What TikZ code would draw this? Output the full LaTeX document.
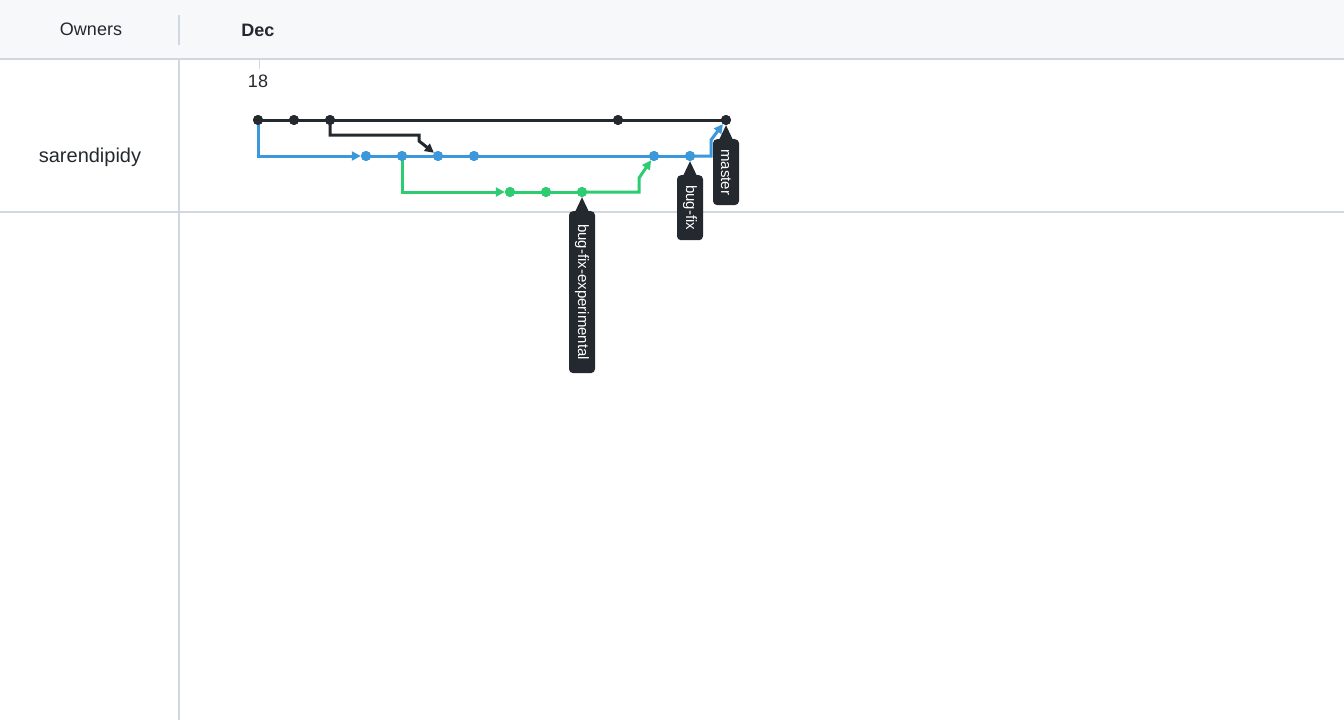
\documentclass[tikz,border=0pt]{standalone}
\usepackage{fontspec}
\setmainfont{Liberation Sans}
\usetikzlibrary{arrows.meta}
\definecolor{hdrbg}{HTML}{F6F8FA}
\definecolor{gridln}{HTML}{D0D7DE}
\definecolor{ink}{HTML}{24292F}
\definecolor{bblue}{RGB}{58,152,219}
\definecolor{bgreen}{RGB}{46,204,113}
\tikzset{
  kdot/.style={circle,fill=ink,inner sep=0pt,minimum size=10pt},
  bdot/.style={circle,fill=bblue,inner sep=0pt,minimum size=10pt},
  gdot/.style={circle,fill=bgreen,inner sep=0pt,minimum size=10pt},
  kline/.style={draw=ink,line width=3pt},
  bline/.style={draw=bblue,line width=3pt},
  gline/.style={draw=bgreen,line width=3pt},
  tip/.style={-{Triangle[length=9pt,width=9pt]}},
  reflabel/.style={rotate=-90,anchor=west,fill=ink,text=white,rounded corners=4pt,
    minimum height=26pt,inner xsep=10pt,inner ysep=0pt,
    font=\fontsize{15}{18}\selectfont},
  pointer/.style={fill=ink},
  hdr/.style={font=\fontsize{18}{22}\selectfont,text=ink},
}
\begin{document}
\begin{tikzpicture}[x=1pt,y=-1pt]
\useasboundingbox (0,0) rectangle (1344,720);
% header
\fill[hdrbg] (0,0) rectangle (1344,59);
\draw[gridln,line width=1.5pt] (0,59) -- (1344,59);
\draw[gridln,line width=1.2pt] (179,15) -- (179,45);
\draw[gridln,line width=1.2pt] (179,59) -- (179,720);
\draw[gridln,line width=1.2pt] (0,212) -- (1344,212);
\draw[gridln,line width=1pt] (259,59) -- (259,69);
\node[hdr] (owners) at (91,29) {Owners};
\node[hdr,font=\fontsize{18}{22}\selectfont\bfseries] (dec) at (258,30) {Dec};
\node[hdr] (day) at (258,81) {18};
\node[font=\fontsize{20}{24}\selectfont,text=ink] (owner) at (90,157) {sarendipidy};
% commits
\node[kdot] (k1) at (258,120) {};
\node[kdot] (k2) at (294,120) {};
\node[kdot] (k3) at (330,120) {};
\node[kdot] (k4) at (618,120) {};
\node[kdot] (k5) at (726,120) {};
\node[bdot] (c1) at (366,156) {};
\node[bdot] (c2) at (402,156) {};
\node[bdot] (c3) at (438,156) {};
\node[bdot] (c4) at (474,156) {};
\node[bdot] (c5) at (654,156) {};
\node[bdot] (c6) at (690,156) {};
\node[gdot] (g1) at (510,192) {};
\node[gdot] (g2) at (546,192) {};
\node[gdot] (g3) at (582,192) {};
% master line
\draw[kline] (k1.center) -- (k2.center) -- (k3.center) -- (k4.center) -- (k5.center);
% merge into blue
\draw[kline,tip] (k3.center) -- (330,135) -- (419,135) -- (419,141) -- (c3);
% blue branch
\draw[bline,tip] (k1.center) -- (258,156) -- (c1);
\draw[bline] (c1.center) -- (c2.center) -- (c3.center) -- (c4.center) -- (c5.center) -- (c6.center);
\draw[bline,tip] (c6.center) -- (711,156) -- (711,140) -- (k5);
% green branch
\draw[gline,tip] (c2.center) -- (402,192) -- (g1);
\draw[gline] (g1.center) -- (g2.center) -- (g3.center);
\draw[gline,tip] (g3.center) -- (639,192) -- (639,178) -- (c5);
% redraw dots over lines
\foreach \n in {k1,k2,k3,k4,k5}{\fill[ink] (\n) circle (5pt);}
\foreach \n in {c1,c2,c3,c4,c5,c6}{\fill[bblue] (\n) circle (5pt);}
\foreach \n in {g1,g2,g3}{\fill[bgreen] (\n) circle (5pt);}
% labels
\node[reflabel] (lmaster) at (726,139) {master};
\fill[pointer] (719,140) -- (733,140) -- (k5.south) -- cycle;
\node[reflabel] (lbugfix) at (690,175) {bug-fix};
\fill[pointer] (683,176) -- (697,176) -- (c6.south) -- cycle;
\node[reflabel,inner xsep=13pt] (lexp) at (582,211) {bug-fix-experimental};
\fill[pointer] (575,212) -- (589,212) -- (g3.south) -- cycle;
\end{tikzpicture}
\end{document}
